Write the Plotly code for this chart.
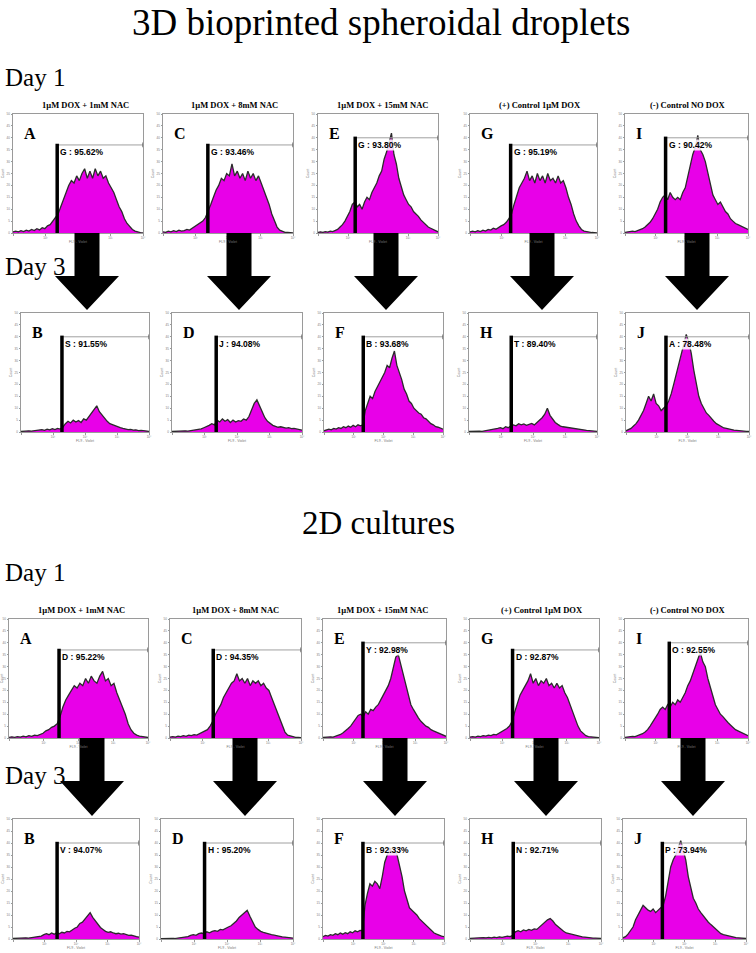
import plotly.graph_objects as go

W, H = 756, 953

# shared x grid: log10 decades of FL9 - Violet fluorescence (50 bins)
LOG_X = [round(4 * i / 49, 4) for i in range(50)]
X_TICKVALS = [0, 1, 2, 3, 4]
X_TICKTEXT = ["", "10¹", "10²", "10³", "10⁴"]
Y_TICKVALS = [0, 5, 10, 15, 20, 25, 30, 35, 40, 45, 50]

CONDITIONS = ["1µM DOX + 1mM NAC", "1µM DOX + 8mM NAC", "1µM DOX + 15mM NAC",
              "(+) Control 1µM DOX", "(-) Control NO DOX"]
LETTERS_DAY1 = ["A", "C", "E", "G", "I"]
LETTERS_DAY3 = ["B", "D", "F", "H", "J"]

# ---------------- 3D bioprinted spheroidal droplets, Day 1 ----------------
SPH_D1_A = [0.5, 0.8, 0.5, 1.0, 0.6, 1.2, 0.8, 1.5, 1.0, 1.8, 1.3, 2.2, 1.8, 3.0, 3.5, 5.0, 6.5, 8.0, 11, 14,
            17, 20, 22, 21, 24, 22, 25, 27, 23, 26, 23, 27, 24, 26, 23, 24, 21, 19, 17, 14,
            11, 9, 6, 4, 2.5, 1.5, 0.8, 0.4, 0.2, 0]
SPH_D1_C = [0.5, 0.3, 0.8, 0.5, 1.0, 0.6, 1.2, 0.8, 1.0, 1.5, 1.2, 2.0, 2.5, 3.5, 4.0, 5.0, 6.5, 9, 12, 15,
            18, 20, 23, 22, 25, 24, 29, 24, 26, 23, 25, 22, 26, 23, 25, 22, 24, 21, 18, 15,
            12, 8, 5, 2.5, 1.2, 0.6, 0.3, 0.2, 0.1, 0]
SPH_D1_E = [0.2, 0.5, 0.3, 0.6, 0.4, 0.8, 0.6, 1.0, 1.5, 2.5, 3.5, 5, 7, 9, 12, 13, 11, 12, 10, 13,
            15, 14, 17, 19, 21, 24, 26, 31, 34, 38, 42, 33, 29, 23, 19, 16, 14, 12, 11, 9,
            8, 7, 5.5, 4.5, 3.5, 2.5, 2.0, 1.5, 1.0, 0.5]
SPH_D1_G = [0.5, 0.8, 0.5, 1.0, 0.6, 1.2, 0.8, 1.5, 1.2, 2.0, 1.6, 2.5, 3.0, 3.5, 4.5, 6, 8, 12, 16, 19,
            21, 23, 26, 22, 24, 21, 25, 22, 24, 21, 25, 22, 23, 21, 24, 21, 22, 19, 15, 12,
            8, 5, 3, 1.5, 0.8, 0.5, 0.3, 0.2, 0.1, 0]
SPH_D1_I = [0.3, 0.5, 0.4, 0.8, 0.6, 1.0, 1.2, 1.8, 2.5, 3.5, 4.5, 6, 8, 10, 13, 15, 16, 14, 17, 15,
            14, 15, 14, 17, 19, 24, 29, 33, 36, 41, 35, 33, 30, 25, 20, 16, 14, 12, 13, 11,
            9, 8, 6, 5, 4, 3.5, 3, 2.5, 2, 1.5]

# ---------------- 3D bioprinted spheroidal droplets, Day 3 ----------------
SPH_D3_B = [0.2, 0.4, 0.3, 0.5, 0.4, 0.6, 0.5, 0.8, 1.0, 0.7, 1.2, 0.9, 1.4, 1.0, 1.5, 1.2, 2.0, 3.5, 4.5, 3.8,
            5, 4.2, 4.8, 4.0, 5.5, 5.0, 6.5, 7.5, 9, 11, 8.5, 7, 5.5, 4.5, 3.5, 3, 2.5, 2.0, 1.8, 1.5,
            1.2, 1.0, 1.1, 0.8, 0.9, 0.6, 0.7, 0.5, 0.4, 0.3]
SPH_D3_D = [0.2, 0.3, 0.2, 0.4, 0.3, 0.5, 0.4, 0.6, 0.8, 0.7, 1.0, 1.3, 1.8, 2.2, 2.8, 3.5, 3.0, 5.0, 4.2, 5.5,
            4.5, 5.2, 4.0, 5.0, 4.2, 4.8, 4.5, 5.5, 5.0, 6.5, 9, 12, 13.5, 11, 8, 6, 4.5, 3.5, 2.8, 2.4,
            2.0, 2.2, 1.8, 1.6, 1.8, 1.4, 1.5, 1.2, 1.0, 0.8]
SPH_D3_F = [0.5, 0.8, 1.2, 0.9, 1.5, 1.2, 1.8, 1.5, 2.2, 1.8, 2.5, 2.0, 2.8, 2.2, 3.0, 2.6, 3.0, 9, 12, 15,
            14, 17, 19, 21, 23, 25, 28, 27, 31, 34, 28, 25, 22, 18, 16, 13, 12, 10, 9, 8,
            7.5, 6, 5.5, 4.5, 3.5, 3.0, 2.2, 2.0, 1.5, 1.2]
SPH_D3_H = [0.2, 0.3, 0.2, 0.3, 0.4, 0.3, 0.5, 0.4, 0.6, 0.8, 1.0, 1.5, 1.8, 1.4, 2.2, 1.8, 2.5, 3.0, 2.6, 3.5,
            3.0, 3.4, 2.8, 3.2, 3.6, 3.0, 4.0, 5.0, 6.0, 7.5, 10, 7, 5.5, 4.0, 3.2, 2.5, 2.2, 2.0, 1.8, 1.6,
            1.4, 1.2, 1.0, 0.9, 0.8, 0.7, 0.6, 0.5, 0.4, 0.3]
SPH_D3_J = [0.5, 1.0, 1.5, 2.5, 3.5, 5, 7, 9, 12, 15, 13, 16, 12, 11, 9, 10, 11, 13, 16, 20,
            24, 28, 33, 36, 41, 38, 33, 26, 20, 15, 12, 10, 8, 7, 5.5, 4.5, 3.5, 2.8, 2.2, 1.7,
            1.5, 1.2, 1.0, 0.8, 0.7, 0.5, 0.5, 0.4, 0.3, 0.2]

# ---------------- 2D cultures, Day 1 ----------------
CUL_D1_A = [0.3, 0.5, 0.3, 0.6, 0.4, 0.8, 0.5, 1.0, 0.7, 1.2, 1.0, 1.5, 2.0, 3.0, 3.5, 4.5, 5.0, 6.0, 9, 13,
            16, 18, 20, 22, 21, 23, 22, 25, 23, 26, 24, 23, 26, 28, 24, 25, 22, 23, 19, 16,
            13, 10, 6, 3.5, 2, 1.2, 0.8, 0.5, 0.3, 0.2]
CUL_D1_C = [0.4, 0.6, 0.4, 0.8, 0.6, 1.0, 0.7, 1.2, 1.0, 1.4, 1.2, 1.8, 2.2, 3.0, 3.5, 5.0, 7, 10, 12, 14,
            17, 19, 21, 23, 24, 27, 24, 25, 23, 25, 22, 24, 23, 24, 22, 23, 21, 20, 17, 14,
            11, 8, 5, 2.5, 1.2, 0.8, 0.5, 0.3, 0.2, 0.1]
CUL_D1_E = [0.2, 0.4, 0.3, 0.5, 0.4, 0.7, 1.0, 1.5, 2.2, 3.0, 4.0, 5.0, 6.5, 8, 9.5, 10, 9, 11, 10, 12,
            11.5, 13, 14, 16, 18, 20, 22, 25, 29, 34, 35, 31, 27, 22, 18, 14, 12, 10, 8.5, 7,
            6, 5, 4.5, 3.5, 3, 2.5, 2.0, 1.5, 1.0, 0.7]
CUL_D1_G = [0.4, 0.6, 0.4, 0.8, 0.6, 1.0, 0.8, 1.2, 1.0, 1.5, 1.3, 2.0, 2.5, 3.2, 4.0, 5.0, 7, 11, 15, 18,
            20, 22, 24, 27, 23, 25, 22, 24, 23, 25, 22, 23, 21, 23, 21, 22, 19, 17, 14, 11,
            8, 5, 3, 1.8, 1.0, 0.6, 0.4, 0.3, 0.2, 0.1]
CUL_D1_I = [0.3, 0.5, 0.4, 0.7, 0.6, 1.0, 1.3, 1.8, 2.5, 3.5, 5, 6.5, 8.5, 10, 12, 13, 12, 14, 13, 15,
            14, 16, 15, 17, 19, 22, 24, 27, 30, 33, 36, 32, 30, 25, 21, 17, 14, 12, 10, 9,
            7.5, 6.5, 5.5, 4.5, 3.5, 3, 2.5, 2, 1.5, 1.0]

# ---------------- 2D cultures, Day 3 ----------------
CUL_D3_B = [0.2, 0.3, 0.2, 0.4, 0.3, 0.5, 0.4, 0.6, 0.8, 0.7, 1.0, 1.2, 1.8, 2.2, 1.8, 2.5, 2.0, 2.6, 2.2, 2.8,
            2.5, 3.2, 3.0, 3.8, 4.5, 5.0, 6.5, 7.0, 8.5, 9.5, 11, 9, 7.5, 6, 4.8, 4.0, 3.2, 2.8, 3.0, 2.5,
            2.2, 2.4, 2.0, 2.2, 1.8, 1.5, 1.6, 1.2, 1.0, 0.8]
CUL_D3_D = [0.1, 0.2, 0.1, 0.2, 0.3, 0.2, 0.3, 0.4, 0.5, 0.8, 1.0, 1.5, 1.8, 1.5, 2.2, 2.5, 2.2, 3.0, 2.6, 3.2,
            3.5, 3.2, 4.0, 3.8, 4.5, 5.0, 5.5, 6.5, 7.5, 9, 10, 11, 12, 9.5, 7, 5, 4, 3.2, 2.8, 2.4,
            2.0, 1.8, 1.6, 1.3, 1.1, 0.9, 0.8, 0.6, 0.5, 0.4]
CUL_D3_F = [1.0, 1.5, 1.2, 1.8, 1.5, 2.2, 1.8, 2.5, 2.0, 2.6, 2.2, 3.0, 2.6, 3.4, 3.0, 3.6, 3.5, 14, 19, 23,
            22, 24, 23, 21, 26, 32, 35, 38, 36, 37, 35, 31, 26, 20, 16, 13, 12, 11, 10, 8.5,
            7.5, 6.5, 5.5, 4.5, 3.5, 2.5, 2.0, 1.5, 1.2, 1.0]
CUL_D3_H = [0.3, 0.4, 0.3, 0.5, 0.4, 0.6, 0.5, 0.7, 0.5, 0.8, 0.6, 0.9, 0.7, 1.0, 1.2, 1.0, 1.5, 3.0, 3.5, 3.0,
            3.8, 3.4, 4.0, 3.6, 4.2, 4.0, 5.0, 6, 7, 8, 8.5, 7.5, 6, 5, 4, 3.2, 2.5, 2.2, 1.8, 1.5,
            1.2, 1.0, 0.9, 0.8, 0.6, 0.5, 0.4, 0.4, 0.3, 0.2]
CUL_D3_J = [0.5, 1.0, 2.0, 3.5, 5, 8, 10, 12, 14, 13, 12, 11.5, 12.5, 11, 12, 13, 14, 18, 24, 30,
            33, 35, 38, 41, 37, 33, 26, 21, 17, 15, 12.5, 11, 9.5, 8, 7, 6, 5, 4, 3, 2.2,
            1.8, 1.5, 1.2, 1.0, 0.8, 0.6, 0.5, 0.4, 0.3, 0.2]

# gates (marker position in log decades, marker height in counts, name, % gated)
SPH_D1_GATE_POS = [1.36, 1.38, 1.24, 1.28, 1.32]
SPH_D3_GATE_POS = [1.28, 1.36, 1.32, 1.32, 1.30]
CUL_D1_GATE_POS = [1.44, 1.32, 1.30, 1.32, 1.44]
CUL_D3_GATE_POS = [1.40, 1.32, 1.32, 1.32, 1.28]
SPH_D1_GATE_LEVEL = [37, 37, 40, 37, 40]
SPH_D3_GATE_LEVEL = [40, 40, 40, 40, 40]
CUL_D1_GATE_LEVEL = [37, 37, 40, 37, 40]
CUL_D3_GATE_LEVEL = [40, 40, 40, 40, 40]
SPH_D1_GATE_NAME = ["G", "G", "G", "G", "G"]
SPH_D3_GATE_NAME = ["S", "J", "B", "T", "A"]
CUL_D1_GATE_NAME = ["D", "D", "Y", "D", "O"]
CUL_D3_GATE_NAME = ["V", "H", "B", "N", "P"]
SPH_D1_GATE_PCT = [95.62, 93.46, 93.80, 95.19, 90.42]
SPH_D3_GATE_PCT = [91.55, 94.08, 93.68, 89.40, 78.48]
CUL_D1_GATE_PCT = [95.22, 94.35, 92.98, 92.87, 92.55]
CUL_D3_GATE_PCT = [94.07, 95.20, 92.33, 92.71, 73.94]

# ---------------- layout geometry (pixels) ----------------
ROWS = [
    dict(data=[SPH_D1_A, SPH_D1_C, SPH_D1_E, SPH_D1_G, SPH_D1_I], letters=LETTERS_DAY1, titles=True,
         xs=[(13, 143), (163, 293), (318, 438), (470, 597), (625, 748)], y=(114, 233),
         title_x=[85, 234, 382, 540, 688],
         pos=SPH_D1_GATE_POS, lev=SPH_D1_GATE_LEVEL, name=SPH_D1_GATE_NAME, pct=SPH_D1_GATE_PCT),
    dict(data=[SPH_D3_B, SPH_D3_D, SPH_D3_F, SPH_D3_H, SPH_D3_J], letters=LETTERS_DAY3, titles=False,
         xs=[(21, 149), (172, 302), (324, 443), (469, 597), (626, 749)], y=(313, 432),
         pos=SPH_D3_GATE_POS, lev=SPH_D3_GATE_LEVEL, name=SPH_D3_GATE_NAME, pct=SPH_D3_GATE_PCT),
    dict(data=[CUL_D1_A, CUL_D1_C, CUL_D1_E, CUL_D1_G, CUL_D1_I], letters=LETTERS_DAY1, titles=True,
         xs=[(9, 148), (170, 301), (323, 446), (470, 599), (625, 748)], y=(619, 738),
         title_x=[81, 235, 382, 542, 688],
         pos=CUL_D1_GATE_POS, lev=CUL_D1_GATE_LEVEL, name=CUL_D1_GATE_NAME, pct=CUL_D1_GATE_PCT),
    dict(data=[CUL_D3_B, CUL_D3_D, CUL_D3_F, CUL_D3_H, CUL_D3_J], letters=LETTERS_DAY3, titles=False,
         xs=[(13, 139), (161, 293), (323, 444), (470, 601), (623, 746)], y=(819, 939),
         pos=CUL_D3_GATE_POS, lev=CUL_D3_GATE_LEVEL, name=CUL_D3_GATE_NAME, pct=CUL_D3_GATE_PCT),
]
ARROWS = [dict(cx=[87, 239, 386, 542, 697], top=233, head=276, tip=310),
          dict(cx=[92, 245, 395, 546, 693], top=738, head=781, tip=816)]

MAGENTA = "#e800e8"
SERIF = "Liberation Serif"
SANS = "Liberation Sans"


def px(v):
    return v / W


def py(v):
    return 1 - v / H


fig = go.Figure()
annotations = []
shapes = []
layout_axes = {}
idx = 0
for row in ROWS:
    top, bot = row["y"]
    for c in range(5):
        idx += 1
        sfx = "" if idx == 1 else str(idx)
        xa, ya = "x" + sfx, "y" + sfx
        x0, x1 = row["xs"][c]
        fig.add_trace(go.Scatter(
            x=LOG_X, y=row["data"][c], mode="lines", fill="tozeroy",
            fillcolor=MAGENTA, line=dict(color="#2b2b2b", width=1.3),
            xaxis=xa, yaxis=ya, hoverinfo="skip", showlegend=False))
        layout_axes["xaxis" + sfx] = dict(
            domain=[px(x0), px(x1)], anchor=ya, range=[0, 4], showgrid=False, zeroline=False,
            automargin=False,
            showline=True, mirror=True, linecolor="#9a9a9a", linewidth=1,
            ticks="outside", ticklen=1.5, tickcolor="#9a9a9a",
            tickvals=X_TICKVALS, ticktext=X_TICKTEXT,
            tickfont=dict(size=3, color="#777", family=SANS),
            title=dict(text="FL9 - Violet", font=dict(size=3.5, color="#777", family=SANS), standoff=0),
            fixedrange=True)
        layout_axes["yaxis" + sfx] = dict(
            domain=[py(bot), py(top)], anchor=xa, range=[0, 50], showgrid=False, zeroline=False,
            automargin=False,
            showline=True, mirror=True, linecolor="#9a9a9a", linewidth=1,
            ticks="outside", ticklen=1.5, tickcolor="#9a9a9a", tickvals=Y_TICKVALS,
            tickfont=dict(size=3, color="#777", family=SANS),
            title=dict(text="Count", font=dict(size=3.5, color="#777", family=SANS), standoff=2),
            fixedrange=True)
        g, lev = row["pos"][c], row["lev"][c]
        # gate marker: horizontal level line, right-end tick, thick vertical bar
        shapes.append(dict(type="line", xref=xa, yref=ya, x0=g, x1=4, y0=lev, y1=lev,
                           line=dict(color="#a0a0a0", width=1), layer="above"))
        shapes.append(dict(type="line", xref=xa, yref=ya, x0=4, x1=4, y0=lev - 1, y1=lev + 1,
                           line=dict(color="#555", width=1.2), layer="above"))
        shapes.append(dict(type="line", xref=xa, yref=ya, x0=g, x1=g, y0=0, y1=lev + 0.5,
                           line=dict(color="black", width=3.5), layer="above"))
        annotations.append(dict(
            xref=xa, yref=ya, x=g, y=lev, xanchor="left", yanchor="top", xshift=2, yshift=-1,
            text=f"<b>{row['name'][c]} : {row['pct'][c]:.2f}%</b>", showarrow=False,
            font=dict(family=SANS, size=8.5, color="black"),
            bgcolor="rgba(255,255,255,0.85)", borderpad=0))
        # panel letter
        annotations.append(dict(
            xref="paper", yref="paper", x=px(x0 + 9), y=py(top + 9), xanchor="left", yanchor="top",
            text=f"<b>{row['letters'][c]}</b>", showarrow=False,
            font=dict(family=SERIF, size=16, color="black")))
        if row["titles"]:
            annotations.append(dict(
                xref="paper", yref="paper", x=px(row["title_x"][c]), y=py(top - 9),
                xanchor="center", yanchor="middle", text=f"<b>{CONDITIONS[c]}</b>", showarrow=False,
                font=dict(family=SERIF, size=8.5, color="black")))

# big down arrows (Day 1 -> Day 3)
SHAFT_HW, HEAD_HW = 12.5, 32
for a in ARROWS:
    for cx in a["cx"]:
        p = (f"M {px(cx - SHAFT_HW)},{py(a['top'])} L {px(cx + SHAFT_HW)},{py(a['top'])} "
             f"L {px(cx + SHAFT_HW)},{py(a['head'])} L {px(cx + HEAD_HW)},{py(a['head'])} "
             f"L {px(cx)},{py(a['tip'])} L {px(cx - HEAD_HW)},{py(a['head'])} "
             f"L {px(cx - SHAFT_HW)},{py(a['head'])} Z")
        shapes.append(dict(type="path", xref="paper", yref="paper", path=p,
                           fillcolor="black", line=dict(width=0), layer="above"))

# section headings
for text, x, y, size, anchor in [
    ("3D bioprinted spheroidal droplets", 381, 22, 37, "center"),
    ("Day 1", 3, 77, 25, "left"),
    ("Day 3", 3, 266, 25, "left"),
    ("2D cultures", 379, 523, 33, "center"),
    ("Day 1", 3, 572, 25, "left"),
    ("Day 3", 3, 775, 25, "left"),
]:
    annotations.append(dict(xref="paper", yref="paper", x=px(x), y=py(y), xanchor=anchor,
                            yanchor="middle", text=text, showarrow=False,
                            font=dict(family=SERIF, size=size, color="black")))

fig.update_layout(
    width=W, height=H, autosize=False, margin=dict(l=0, r=0, t=0, b=0, pad=0),
    paper_bgcolor="white", plot_bgcolor="white",
    annotations=annotations, shapes=shapes, showlegend=False, **layout_axes)

fig.write_html("out.html", config={"displayModeBar": False},
               post_script="document.body.style.margin='0px';document.body.style.padding='0px';")
